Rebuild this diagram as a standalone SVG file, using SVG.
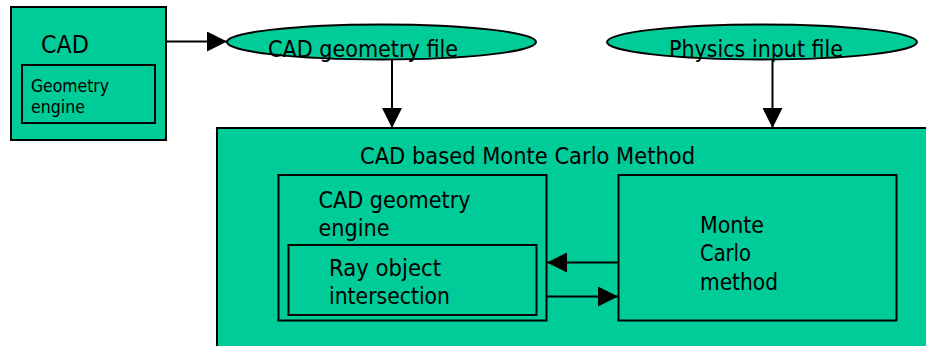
<svg xmlns="http://www.w3.org/2000/svg" width="926" height="346" viewBox="0 0 926 346">
<style>
.box{fill:#00CC99;stroke:#000;stroke-width:2}
.in{fill:none;stroke:#000;stroke-width:2}
.t{font-family:"DejaVu Sans","Liberation Sans",sans-serif;fill:#000;font-size:23.5px}
.s{font-size:17px}
.c{stroke:#000;stroke-width:2;fill:none}
</style>
<defs>
<marker id="ah" markerUnits="userSpaceOnUse" markerWidth="20" markerHeight="20" refX="20" refY="10" orient="auto" viewBox="0 0 20 20">
<path d="M0,0 L20,10 L0,20 Z" fill="#000"/>
</marker>
</defs>
<rect width="926" height="346" fill="#fff"/>
<g id="main">
<rect class="box" x="217" y="128" width="730" height="240"/>
<text class="t" x="360" y="163.5" textLength="335" lengthAdjust="spacingAndGlyphs">CAD based Monte Carlo Method</text>
</g>
<g id="cad">
<rect class="box" x="11" y="7" width="155" height="133"/>
<text class="t" x="41" y="52.5" style="font-size:25px" textLength="48" lengthAdjust="spacingAndGlyphs">CAD</text>
<g id="geometry-engine">
<rect class="in" x="22" y="65" width="133" height="58"/>
<text class="t s" x="31" y="91.5" textLength="78" lengthAdjust="spacingAndGlyphs">Geometry</text>
<text class="t s" x="31" y="112.5" textLength="54" lengthAdjust="spacingAndGlyphs">engine</text>
</g>
</g>
<g id="cad-file">
<ellipse class="box" cx="381.5" cy="42" rx="154.5" ry="17.5"/>
<text class="t" x="268" y="56.5" textLength="190" lengthAdjust="spacingAndGlyphs">CAD geometry file</text>
</g>
<g id="physics-file">
<ellipse class="box" cx="762" cy="42" rx="155" ry="17.5"/>
<text class="t" x="669" y="56.5" textLength="174" lengthAdjust="spacingAndGlyphs">Physics input file</text>
</g>
<g id="cad-engine">
<rect class="in" x="278.5" y="175" width="268" height="145.5"/>
<text class="t" x="318.5" y="207.5" textLength="152" lengthAdjust="spacingAndGlyphs">CAD geometry</text>
<text class="t" x="318.5" y="235.5" textLength="71" lengthAdjust="spacingAndGlyphs">engine</text>
</g>
<g id="ray">
<rect class="in" x="288.5" y="245" width="248" height="70"/>
<text class="t" x="329" y="276" textLength="112" lengthAdjust="spacingAndGlyphs">Ray object</text>
<text class="t" x="329" y="304" textLength="121" lengthAdjust="spacingAndGlyphs">intersection</text>
</g>
<g id="monte-carlo">
<rect class="in" x="618.5" y="175" width="278" height="145.5"/>
<text class="t" x="700" y="232.5" textLength="64" lengthAdjust="spacingAndGlyphs">Monte</text>
<text class="t" x="700" y="261" textLength="51" lengthAdjust="spacingAndGlyphs">Carlo</text>
<text class="t" x="700" y="289.5" textLength="78" lengthAdjust="spacingAndGlyphs">method</text>
</g>
<g id="connectors">
<line class="c" x1="166" y1="41.5" x2="227" y2="41.5" marker-end="url(#ah)"/>
<line class="c" x1="392" y1="59.5" x2="392" y2="128" marker-end="url(#ah)"/>
<line class="c" x1="772.5" y1="59.5" x2="772.5" y2="128" marker-end="url(#ah)"/>
<line class="c" x1="618.5" y1="262.5" x2="547" y2="262.5" marker-end="url(#ah)"/>
<line class="c" x1="547" y1="296.5" x2="618" y2="296.5" marker-end="url(#ah)"/>
</g>
</svg>
